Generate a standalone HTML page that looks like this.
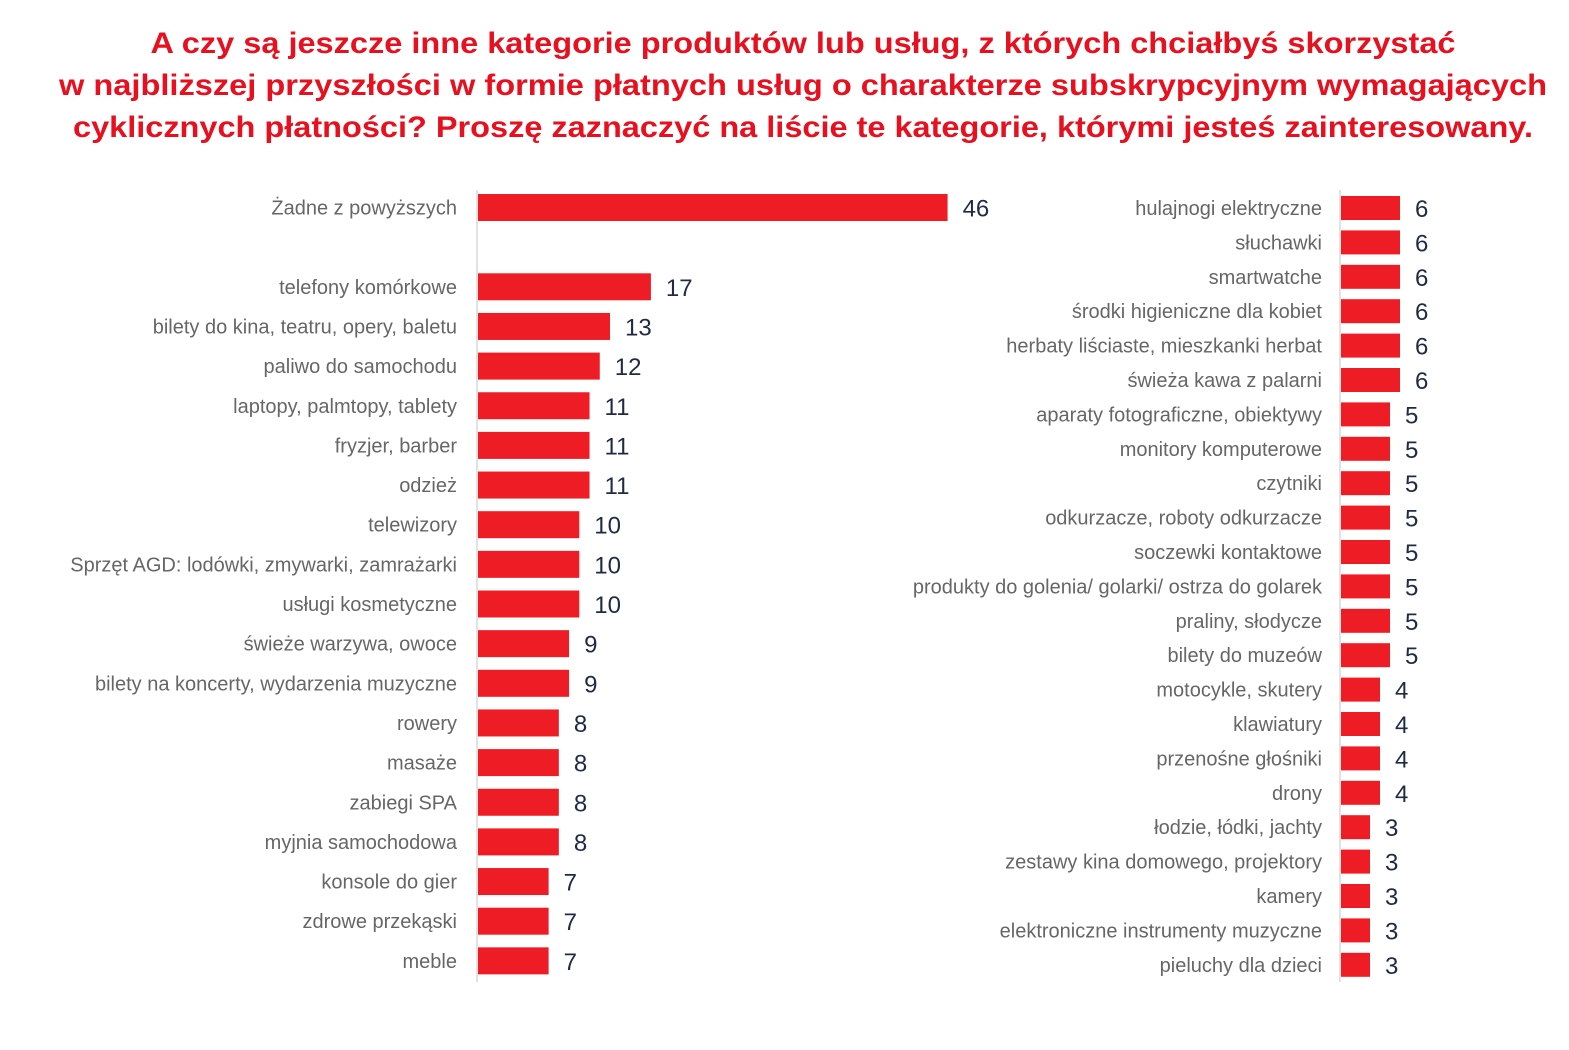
<!DOCTYPE html>
<html><head><meta charset="utf-8"><style>
html,body{margin:0;padding:0;background:#fff;}
svg{display:block;font-family:"Liberation Sans",sans-serif;}
</style></head><body>
<svg id="chart" width="1569" height="1050" viewBox="0 0 1569 1050" xmlns="http://www.w3.org/2000/svg">
<g fill="#e8101f" font-weight="bold" font-size="30" text-anchor="middle">
<text x="803" y="53" textLength="1305" lengthAdjust="spacingAndGlyphs">A czy są jeszcze inne kategorie produktów lub usług, z których chciałbyś skorzystać</text>
<text x="803" y="95" textLength="1488" lengthAdjust="spacingAndGlyphs">w najbliższej przyszłości w formie płatnych usług o charakterze subskrypcyjnym wymagających</text>
<text x="803" y="137" textLength="1460" lengthAdjust="spacingAndGlyphs">cyklicznych płatności? Proszę zaznaczyć na liście te kategorie, którymi jesteś zainteresowany.</text>
</g>
<g id="left"></g>
<g id="right"></g>
</svg>
<script>
const leftCategories = ["Żadne z powyższych","","telefony komórkowe","bilety do kina, teatru, opery, baletu","paliwo do samochodu","laptopy, palmtopy, tablety","fryzjer, barber","odzież","telewizory","Sprzęt AGD: lodówki, zmywarki, zamrażarki","usługi kosmetyczne","świeże warzywa, owoce","bilety na koncerty, wydarzenia muzyczne","rowery","masaże","zabiegi SPA","myjnia samochodowa","konsole do gier","zdrowe przekąski","meble"];
const leftValues = [46,null,17,13,12,11,11,11,10,10,10,9,9,8,8,8,8,7,7,7];
const rightCategories = ["hulajnogi elektryczne","słuchawki","smartwatche","środki higieniczne dla kobiet","herbaty liściaste, mieszkanki herbat","świeża kawa z palarni","aparaty fotograficzne, obiektywy","monitory komputerowe","czytniki","odkurzacze, roboty odkurzacze","soczewki kontaktowe","produkty do golenia/ golarki/ ostrza do golarek","praliny, słodycze","bilety do muzeów","motocykle, skutery","klawiatury","przenośne głośniki","drony","łodzie, łódki, jachty","zestawy kina domowego, projektory","kamery","elektroniczne instrumenty muzyczne","pieluchy dla dzieci"];
const rightValues = [6,6,6,6,6,6,5,5,5,5,5,5,5,5,4,4,4,4,3,3,3,3,3];

const NS="http://www.w3.org/2000/svg";
function mk(tag,attrs,parent,txt){const e=document.createElementNS(NS,tag);for(const k in attrs)e.setAttribute(k,attrs[k]);if(txt!=null)e.textContent=txt;parent.appendChild(e);return e;}

function panel(g,cats,vals,o){
  const x=v=>o.x0+v*o.scale;
  const y=i=>o.y0+i*o.step;
  const ax=mk('line',{x1:o.x0,x2:o.x0,y1:o.axTop,y2:o.axBot,stroke:'#d9d9d9','stroke-width':1.5},g);
  
  
  cats.forEach((c,i)=>{
    const v=vals[i];
    if(v==null)return;
    const cy=y(i);
    const t=mk('text',{x:o.x0-o.lgap,y:cy+7,'text-anchor':'end','font-size':o.lf,fill:'#666'},g,c);
    
    
    const r=mk('rect',{x:o.x0+1,y:cy-o.bh/2,width:x(v)-o.x0-1,height:o.bh,fill:'#ee1c25'},g);
    
    
    const vt=mk('text',{x:x(v)+15,y:cy+9,'font-size':24,fill:'#1f2a44'},g,String(v));
    
    
  });
}
panel(document.getElementById('left'),leftCategories,leftValues,{x0:477,scale:10.23,y0:207.5,step:39.65,bh:27,axTop:190,axBot:982,lf:20,lgap:20});
panel(document.getElementById('right'),rightCategories,rightValues,{x0:1340,scale:10,y0:208,step:34.4,bh:24,axTop:190,axBot:982,lf:20,lgap:18});
</script>
</body></html>
